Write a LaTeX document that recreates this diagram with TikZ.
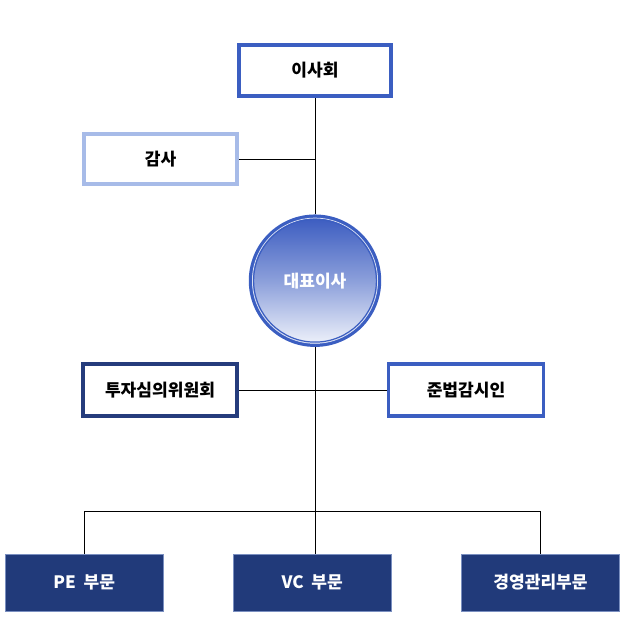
\documentclass[tikz,border=0pt]{standalone}
\usepackage{fontspec}
\setmainfont{Noto Sans CJK KR}
\definecolor{boardblue}{HTML}{3B5EC1}
\definecolor{lightblue}{HTML}{A7BBE8}
\definecolor{navyline}{HTML}{253C7C}
\definecolor{navyfill}{HTML}{213A7A}
\definecolor{navyedge}{HTML}{7A8FC0}
\definecolor{topgrad}{HTML}{3A5BC0}
\definecolor{botgrad}{HTML}{F0F3FB}
\tikzset{
  lbl/.style={font=\fontsize{12.8pt}{15pt}\selectfont\bfseries},
  orgbox/.style={rectangle, fill=white, lbl, text=black, inner sep=0pt},
  unitbox/.style={rectangle, fill=navyfill, draw=navyedge, line width=0.75pt, text=white,
    minimum width=118.5pt, minimum height=42.75pt, lbl, inner sep=0pt},
  link/.style={draw=black, line width=0.75pt}
}
\begin{document}
\begin{tikzpicture}[x=0.75pt,y=-0.75pt]
\useasboundingbox (0,0) rectangle (629,642);
% boxes
\node[orgbox, draw=boardblue, line width=3pt, minimum width=114.2pt, minimum height=38.25pt] (board) at (315,70.5) {이사회};
\node[orgbox, draw=lightblue, line width=2.6pt, minimum width=114.75pt, minimum height=37.5pt] (audit) at (160.5,159) {감사};
\node[orgbox, draw=navyline, line width=3pt, minimum width=115.5pt, minimum height=39pt] (invest) at (160,390) {투자심의위원회};
\node[orgbox, draw=boardblue, line width=2.6pt, minimum width=116.25pt, minimum height=39pt] (comply) at (466,390) {준법감시인};
% CEO circle
\node[circle, minimum size=96.75pt, inner sep=0pt, top color=topgrad, bottom color=botgrad, middle color=topgrad!55!botgrad, draw=boardblue, line width=2.6pt] (ceo) at (315,280.7) {};
\draw[white!80!boardblue, line width=0.6pt] (ceo.center) circle (62.6);
\draw[boardblue, line width=0.9pt] (ceo.center) circle (61.4);
\node[text=white, lbl] (ceotext) at (315,280.7) {대표이사};
% bottom units
\node[unitbox] (pe) at (84.3,582.5) {PE\ \ 부문};
\node[unitbox] (vc) at (312.2,582.5) {VC\ \ 부문};
\node[unitbox] (mgmt) at (540.5,582.5) {경영관리부문};
% connectors
\coordinate (trunk) at (315,159);
\coordinate (busl) at (84.3,511.7);
\coordinate (busr) at (540.5,511.7);
\coordinate (busc) at (315,511.7);
\draw[link] (board.south) -- (ceo.north);
\draw[link] (audit.east) -- (trunk);
\draw[link] (invest.east) -- (comply.west);
\draw[link] (ceo.south) -- (busc);
\draw[link] (pe.north) -- (busl) -- (busr) -- (mgmt.north);
\draw[link] (busc) -- (busc |- vc.north);
\end{tikzpicture}
\end{document}
